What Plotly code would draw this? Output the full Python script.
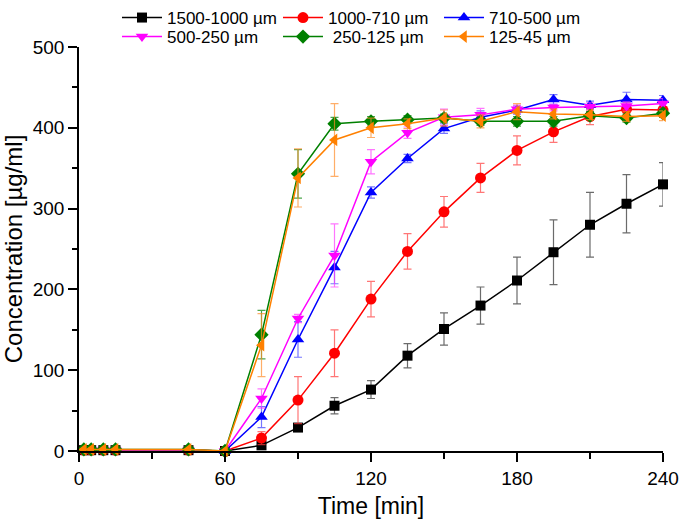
import plotly.graph_objects as go

time = [2, 5, 10, 15, 45, 60, 75, 90, 105, 120, 135, 150, 165, 180, 195, 210, 225, 240]

names = ["1500-1000 µm", "1000-710 µm", "710-500 µm", "500-250 µm", " 250-125 µm", "125-45 µm"]

c_1500 = [1, 1, 1, 1, 1, 0, 7, 29, 56, 76, 118, 151, 180, 211, 246, 280, 306, 330]
e_1500 = [0, 0, 0, 0, 0, 0, 3, 4, 10, 11, 15, 20, 23, 29, 40, 40, 36, 27]

c_1000 = [1, 1, 1, 1, 1, 0, 16, 63, 121, 188, 247, 296, 338, 372, 395, 414, 423, 422]
e_1000 = [0, 0, 0, 0, 0, 0, 8, 29, 29, 22, 22, 19, 18, 18, 13, 10, 8, 8]

c_710 = [1, 1, 1, 1, 1, 0, 42, 138, 227, 320, 362, 399, 413, 422, 435, 428, 435, 434]
e_710 = [0, 0, 0, 0, 0, 0, 13, 22, 20, 7, 5, 6, 8, 5, 6, 5, 9, 6]

c_500 = [1, 1, 1, 1, 1, 0, 65, 164, 242, 358, 394, 413, 416, 423, 425, 426, 427, 430]
e_500 = [0, 0, 0, 0, 0, 0, 12, 5, 39, 15, 7, 10, 8, 5, 4, 5, 5, 6]

c_250 = [2, 2, 2, 2, 2, 0, 144, 343, 405, 408, 410, 412, 408, 408, 408, 415, 412, 418]
e_250 = [0, 0, 0, 0, 0, 0, 30, 30, 8, 6, 5, 5, 5, 6, 6, 5, 5, 5]

c_125 = [2, 2, 2, 2, 2, 0, 131, 338, 385, 400, 405, 412, 408, 420, 417, 416, 414, 415]
e_125 = [0, 0, 0, 0, 0, 0, 39, 36, 45, 12, 6, 10, 8, 10, 6, 6, 6, 6]

x_ticks = [0, 60, 120, 180, 240]
y_ticks = [0, 100, 200, 300, 400, 500]

series = [
    (names[0], c_1500, e_1500, "#000000", "rgba(70,70,70,0.8)", "square", 10, "legend"),
    (names[1], c_1000, e_1000, "#FF0000", "rgba(255,60,60,0.7)", "circle", 11, "legend"),
    (names[2], c_710, e_710, "#0000FF", "rgba(60,60,255,0.7)", "triangle-up", 11, "legend"),
    (names[3], c_500, e_500, "#FF00FF", "rgba(255,60,255,0.7)", "triangle-down", 11, "legend2"),
    (names[4], c_250, e_250, "#008000", "rgba(0,128,0,0.7)", "diamond", 11, "legend2"),
    (names[5], c_125, e_125, "#FF8000", "rgba(255,140,40,0.7)", "triangle-left", 11, "legend2"),
]

fig = go.Figure()
for name, vals, errs, col, ecol, sym, sz, lg in series:
    fig.add_trace(go.Scatter(
        x=time, y=vals, name=name, mode="lines+markers",
        line=dict(color=col, width=1.5),
        marker=dict(symbol=sym, size=sz, color=col),
        error_y=dict(type="data", array=errs, visible=True, color=ecol, thickness=1.2, width=4),
        cliponaxis=False, legend=lg,
    ))

font = "Liberation Sans, Arial, sans-serif"
leg_common = dict(orientation="h", xref="container", yref="container",
                  x=0.1723, xanchor="left", yanchor="top",
                  entrywidth=106, entrywidthmode="pixels", tracegroupgap=0,
                  font=dict(size=17), bgcolor="rgba(0,0,0,0)", itemwidth=40)
fig.update_layout(
    width=679, height=521,
    margin=dict(l=79, r=16, t=47, b=70, autoexpand=False),
    plot_bgcolor="white", paper_bgcolor="white",
    font=dict(family=font, size=19, color="#000000"),
    showlegend=True,
    legend=dict(leg_common, y=1.0),
    legend2=dict(leg_common, y=1 - 19 / 521),
    xaxis=dict(range=[0, 240], tickvals=x_ticks, ticktext=[str(v) for v in x_ticks],
               ticks="outside", ticklen=9, tickwidth=1.5, tickcolor="#000",
               showline=True, linecolor="#000", linewidth=1.5, showgrid=False, zeroline=False,
               automargin=False,
               minor=dict(tickvals=[30, 90, 150, 210], ticks="outside", ticklen=6, tickwidth=1.5, tickcolor="#000", showgrid=False),
               title=dict(text="Time [min]", font=dict(size=23), standoff=10),
               tickfont=dict(size=19)),
    yaxis=dict(range=[0, 500], tickvals=y_ticks, ticktext=[str(v) for v in y_ticks],
               ticks="outside", ticklen=9, tickwidth=1.5, tickcolor="#000",
               showline=True, linecolor="#000", linewidth=1.5, showgrid=False, zeroline=False,
               automargin=False,
               minor=dict(tickvals=[50, 150, 250, 350, 450], ticks="outside", ticklen=5, tickwidth=1.5, tickcolor="#000", showgrid=False),
               title=dict(text="Concentration [µg/ml]", font=dict(size=24), standoff=15),
               tickfont=dict(size=19)),
)

fig.write_html("out.html", config={"displayModeBar": False},
               post_script="document.body.style.margin='0';")
